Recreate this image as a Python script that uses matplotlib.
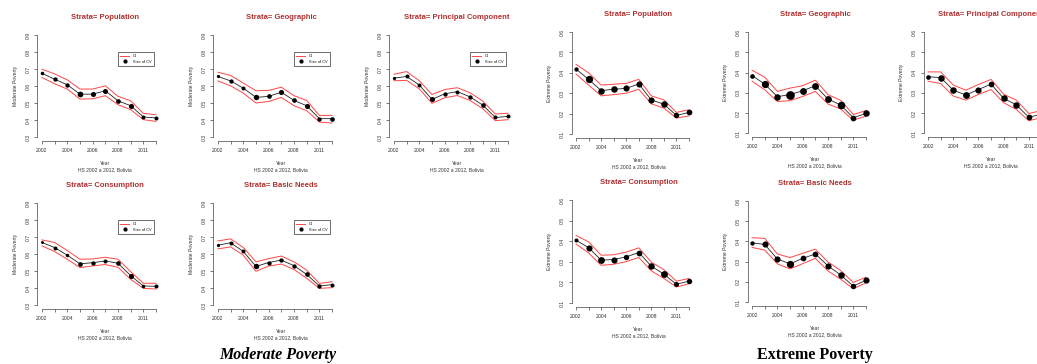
import numpy as np
import matplotlib
matplotlib.use("Agg")
import matplotlib.pyplot as plt
from matplotlib.lines import Line2D

plt.rcParams["font.family"] = ["Liberation Sans", "DejaVu Sans"]

years = ["2002", "2003", "2004", "2005", "2006", "2007", "2008", "2009", "2011", "2012"]
year_labels = ["2002", "", "2004", "", "2006", "", "2008", "", "2011", ""]
strata = ["Population", "Geographic", "Principal Component", "Consumption", "Basic Needs"]

# moderate poverty: estimate, CI bounds and size of CV (marker diameter, px)
mod_est = {
    "Population":          [0.675, 0.640, 0.607, 0.552, 0.552, 0.572, 0.513, 0.484, 0.418, 0.412],
    "Geographic":          [0.656, 0.630, 0.587, 0.533, 0.539, 0.564, 0.515, 0.484, 0.408, 0.408],
    "Principal Component": [0.646, 0.656, 0.606, 0.521, 0.554, 0.567, 0.536, 0.488, 0.415, 0.421],
    "Consumption":         [0.668, 0.638, 0.593, 0.542, 0.549, 0.559, 0.546, 0.473, 0.412, 0.410],
    "Basic Needs":         [0.652, 0.666, 0.615, 0.527, 0.550, 0.564, 0.531, 0.480, 0.412, 0.420],
}
mod_upper = {
    "Population":          [0.699, 0.671, 0.636, 0.582, 0.582, 0.601, 0.539, 0.513, 0.439, 0.431],
    "Geographic":          [0.681, 0.662, 0.617, 0.572, 0.574, 0.593, 0.543, 0.515, 0.427, 0.427],
    "Principal Component": [0.669, 0.685, 0.631, 0.550, 0.579, 0.590, 0.560, 0.512, 0.435, 0.440],
    "Consumption":         [0.683, 0.668, 0.620, 0.569, 0.571, 0.581, 0.569, 0.496, 0.428, 0.428],
    "Basic Needs":         [0.677, 0.689, 0.638, 0.554, 0.573, 0.588, 0.554, 0.505, 0.427, 0.437],
}
mod_lower = {
    "Population":          [0.650, 0.613, 0.582, 0.523, 0.525, 0.543, 0.490, 0.461, 0.402, 0.392],
    "Geographic":          [0.630, 0.601, 0.558, 0.500, 0.509, 0.533, 0.484, 0.455, 0.388, 0.382],
    "Principal Component": [0.631, 0.633, 0.583, 0.498, 0.531, 0.544, 0.515, 0.467, 0.396, 0.402],
    "Consumption":         [0.648, 0.614, 0.569, 0.520, 0.530, 0.538, 0.522, 0.451, 0.398, 0.394],
    "Basic Needs":         [0.630, 0.642, 0.593, 0.498, 0.529, 0.541, 0.509, 0.457, 0.398, 0.402],
}
mod_cv = {
    "Population":          [3.3, 4.0, 4.0, 5.3, 4.7, 4.7, 4.3, 4.7, 3.7, 3.7],
    "Geographic":          [3.0, 4.0, 3.7, 5.0, 4.3, 4.7, 4.3, 4.7, 4.0, 4.3],
    "Principal Component": [3.0, 3.7, 3.7, 4.7, 4.0, 3.7, 4.0, 4.3, 3.7, 3.7],
    "Consumption":         [2.7, 3.7, 3.3, 4.3, 4.0, 3.7, 4.3, 4.7, 3.3, 3.7],
    "Basic Needs":         [3.0, 3.7, 3.7, 5.0, 4.0, 4.0, 4.0, 4.3, 4.0, 3.7],
}

# extreme poverty
ext_est = {
    "Population":          [0.418, 0.368, 0.313, 0.319, 0.324, 0.345, 0.267, 0.246, 0.191, 0.206],
    "Geographic":          [0.385, 0.343, 0.281, 0.291, 0.310, 0.335, 0.269, 0.240, 0.177, 0.198],
    "Principal Component": [0.379, 0.375, 0.313, 0.289, 0.316, 0.343, 0.272, 0.241, 0.179, 0.195],
    "Consumption":         [0.405, 0.369, 0.308, 0.311, 0.324, 0.345, 0.279, 0.240, 0.191, 0.206],
    "Basic Needs":         [0.393, 0.385, 0.313, 0.289, 0.316, 0.338, 0.279, 0.234, 0.179, 0.208],
}
ext_upper = {
    "Population":          [0.441, 0.400, 0.340, 0.344, 0.348, 0.368, 0.287, 0.267, 0.206, 0.219],
    "Geographic":          [0.411, 0.377, 0.307, 0.323, 0.335, 0.362, 0.291, 0.263, 0.193, 0.212],
    "Principal Component": [0.403, 0.403, 0.338, 0.313, 0.341, 0.366, 0.293, 0.264, 0.198, 0.212],
    "Consumption":         [0.428, 0.397, 0.332, 0.334, 0.347, 0.368, 0.298, 0.262, 0.206, 0.219],
    "Basic Needs":         [0.418, 0.415, 0.338, 0.320, 0.341, 0.362, 0.298, 0.256, 0.197, 0.223],
}
ext_lower = {
    "Population":          [0.394, 0.340, 0.287, 0.293, 0.300, 0.319, 0.248, 0.227, 0.178, 0.189],
    "Geographic":          [0.357, 0.315, 0.257, 0.261, 0.282, 0.307, 0.245, 0.220, 0.165, 0.185],
    "Principal Component": [0.357, 0.346, 0.284, 0.264, 0.292, 0.316, 0.251, 0.218, 0.162, 0.178],
    "Consumption":         [0.386, 0.343, 0.283, 0.288, 0.301, 0.321, 0.256, 0.219, 0.178, 0.193],
    "Basic Needs":         [0.370, 0.357, 0.289, 0.264, 0.290, 0.316, 0.254, 0.213, 0.166, 0.195],
}
ext_cv = {
    "Population":          [4.0, 6.7, 6.0, 6.0, 5.7, 5.7, 5.7, 6.0, 5.0, 5.3],
    "Geographic":          [4.3, 6.7, 6.0, 8.0, 6.3, 6.3, 6.3, 7.0, 5.3, 6.0],
    "Principal Component": [4.3, 6.0, 6.0, 6.3, 5.7, 5.3, 6.0, 6.0, 5.3, 5.3],
    "Consumption":         [3.7, 5.7, 6.3, 5.7, 5.0, 5.3, 6.0, 6.3, 4.7, 5.0],
    "Basic Needs":         [4.0, 5.7, 5.7, 6.7, 5.3, 5.3, 5.7, 6.0, 5.0, 5.7],
}

W, H = 1037, 364
fig = plt.figure(figsize=(W / 100, H / 100), dpi=100)

# plot regions in pixels: x0, x1, ytop, ybottom
mod_boxes = {"Population": (37.4, 160.6, 30.9, 141.1),
             "Geographic": (213.4, 336.6, 30.9, 141.1),
             "Principal Component": (389.4, 512.6, 30.9, 141.1),
             "Consumption": (37.4, 160.6, 198.9, 309.1),
             "Basic Needs": (213.4, 336.6, 198.9, 309.1)}
ext_boxes = {"Population": (571.5, 693.5, 27.9, 138.1),
             "Geographic": (747.5, 870.5, 27.9, 137.4),
             "Principal Component": (923.5, 1046.0, 27.9, 137.4),
             "Consumption": (571.5, 693.5, 195.9, 307.1),
             "Basic Needs": (747.5, 870.5, 196.9, 306.1)}

RED = "#ff4545"


def fx(px):
    return px / W


def fy(py):
    return 1 - py / H


def panel(box, name, est, up, lo, cv, ymin, ymax, ylabel, legend):
    x0, x1, yt, yb = box
    ax = fig.add_axes([fx(x0), fy(yb), (x1 - x0) / W, (yb - yt) / H])
    x = np.arange(1, len(years) + 1)
    ax.plot(x, up, color=RED, lw=0.7)
    ax.plot(x, lo, color=RED, lw=0.7)
    ax.plot(x, est, color="#222222", lw=0.6, zorder=3)
    for xi, yi, s in zip(x, est, cv):
        ax.plot(xi, yi, "o", color="black", ms=s * 0.78, mew=0, zorder=4)

    rng = ymax - ymin
    ax.set_xlim(1 - 0.36, len(years) + 0.36)
    ax.set_ylim(ymin - 0.04 * rng, ymax + 0.04 * rng)
    for s in ["top", "right"]:
        ax.spines[s].set_visible(False)
    ax.spines["left"].set_bounds(ymin, ymax)
    ax.spines["bottom"].set_bounds(1, len(years))
    for s in ["left", "bottom"]:
        ax.spines[s].set_linewidth(0.5)
        ax.spines[s].set_color("#444444")
    ax.set_xticks(x)
    ax.set_xticklabels(year_labels)
    yt_vals = np.round(np.arange(ymin, ymax + 1e-9, 0.1), 1)
    ax.set_yticks(yt_vals)
    ax.set_yticklabels(["%.1f" % v for v in yt_vals], rotation=90, va="center")
    ax.tick_params(length=2.2, width=0.5, labelsize=3.7, pad=2.5, colors="#444444",
                   labelcolor="#333333")

    cx = (x0 + x1) / 2 + 6
    fig.text(fx(cx), fy(yt - 13), "Strata= " + name, ha="center", va="center",
             fontsize=5.5, fontweight="bold", color="#b03030")
    fig.text(fx(cx), fy(yb + 22), "Year", ha="center", va="center", fontsize=3.6, color="#333333")
    fig.text(fx(cx), fy(yb + 28.5), "HS 2002 a 2012, Bolivia", ha="center", va="center",
             fontsize=3.6, color="#333333")
    fig.text(fx(x0 - 22), fy((yt + yb) / 2), ylabel, rotation=90, ha="center", va="center",
             fontsize=3.6, color="#333333")

    if legend:
        handles = [Line2D([], [], color=RED, lw=0.7),
                   Line2D([], [], ls="none", marker="o", color="black", ms=2)]
        leg = ax.legend(handles, ["CI", "Size of CV"], loc="upper left",
                        bbox_to_anchor=(0.654, 0.81), fontsize=2.8, fancybox=False,
                        framealpha=1, edgecolor="#333333", handlelength=2.2,
                        borderpad=0.6, labelspacing=0.4, handletextpad=1.0,
                        borderaxespad=0)
        leg.get_frame().set_linewidth(0.5)
    return ax


for name in strata:
    panel(mod_boxes[name], name, mod_est[name], mod_upper[name], mod_lower[name],
          mod_cv[name], 0.3, 0.9, "Moderate Poverty", True)
    panel(ext_boxes[name], name, ext_est[name], ext_upper[name], ext_lower[name],
          ext_cv[name], 0.1, 0.6, "Extreme Poverty", False)

fig.text(fx(278), fy(355), "Moderate Poverty", ha="center", va="center", fontsize=11.5,
         fontweight="bold", fontstyle="italic", family="Liberation Serif")
fig.text(fx(815), fy(355), "Extreme Poverty", ha="center", va="center", fontsize=11.5,
         fontweight="bold", family="Liberation Serif")

fig.savefig("out.png", dpi=100)
